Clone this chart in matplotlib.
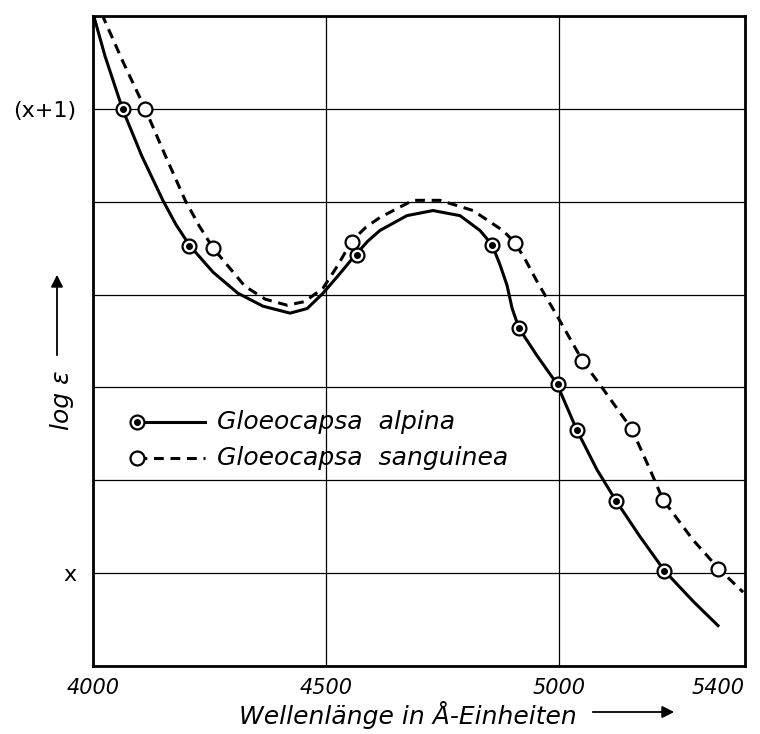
import numpy as np
import matplotlib
matplotlib.use("Agg")
import matplotlib.pyplot as plt
from matplotlib.lines import Line2D

plt.rcParams['font.family'] = ['DejaVu Sans']

# measured points (wavelength in Angstrom, log eps relative to x)
alpina_w = [4064, 4206, 4567, 4857, 4915, 4998, 5039, 5123, 5226]
alpina_y = [1.000, 0.705, 0.686, 0.707, 0.527, 0.408, 0.308, 0.156, 0.004]
sang_w = [4112, 4258, 4556, 4906, 5050, 5157, 5224, 5342]
sang_y = [1.000, 0.700, 0.714, 0.712, 0.458, 0.310, 0.158, 0.009]

# hand-drawn curves
alpina_curve_w = [4000, 4026, 4064, 4105, 4150, 4178, 4208, 4258, 4311, 4365, 4423, 4460,
                  4494, 4530, 4563, 4590, 4616, 4674, 4730, 4788, 4831, 4857, 4874, 4889,
                  4900, 4915, 4953, 4996, 5039, 5082, 5123, 5175, 5228, 5290, 5342]
alpina_curve_y = [1.206, 1.113, 0.998, 0.898, 0.803, 0.751, 0.705, 0.648, 0.603, 0.575, 0.560, 0.570,
                  0.603, 0.645, 0.685, 0.715, 0.738, 0.770, 0.781, 0.770, 0.738, 0.707, 0.664, 0.620,
                  0.570, 0.527, 0.469, 0.408, 0.308, 0.223, 0.156, 0.078, 0.004, -0.062, -0.113]
sang_curve_w = [4019, 4065, 4112, 4155, 4198, 4228, 4258, 4326, 4370, 4417, 4455, 4494,
                4525, 4556, 4586, 4616, 4687, 4745, 4816, 4880, 4906, 4930, 4953, 4996, 5052,
                5095, 5157, 5196, 5224, 5288, 5344, 5396]
sang_curve_y = [1.204, 1.100, 1.000, 0.900, 0.803, 0.748, 0.700, 0.618, 0.590, 0.577, 0.585, 0.614,
                0.662, 0.716, 0.745, 0.766, 0.803, 0.803, 0.781, 0.738, 0.712, 0.672, 0.629, 0.555, 0.456,
                0.397, 0.310, 0.223, 0.158, 0.072, 0.009, -0.041]

xticks = [4000, 4500, 5000, 5400]
xtick_labels = ['4000', '4500', '5000', '5400']
ygrid = [-0.2, 0.0, 0.2, 0.4, 0.6, 0.8, 1.0, 1.2]
ytick_labels = ['', 'x', '', '', '', '', '(x+1)', '']
names = ['Gloeocapsa  alpina', 'Gloeocapsa  sanguinea']

fig = plt.figure(figsize=(7.6, 7.34), dpi=100)
ax = fig.add_axes([93 / 760, 68 / 734, 652 / 760, 650 / 734])
ax.set_xlim(4000, 5400)
ax.set_ylim(-0.2, 1.2)

ax.set_xticks(xticks)
ax.set_xticklabels(xtick_labels, fontsize=15, style='italic')
ax.get_xticklabels()[-1].set_horizontalalignment('right')
ax.get_xticklabels()[-1].set_x(5410)
ax.set_yticks(ygrid)
ax.set_yticklabels(ytick_labels, fontsize=16)
ax.tick_params(length=0)
ax.tick_params(axis='x', pad=9)
ax.tick_params(axis='y', pad=12)
ax.grid(True, color='black', lw=0.9)
for s in ax.spines.values():
    s.set_linewidth(2)

ax.plot(alpina_curve_w, alpina_curve_y, color='black', lw=2.2, solid_joinstyle='round')
ax.plot(sang_curve_w, sang_curve_y, color='black', lw=2.2, ls=(0, (3.2, 2.2)))

ax.plot(alpina_w, alpina_y, 'o', ms=10, mfc='white', mec='black', mew=1.6, zorder=5)
ax.plot(alpina_w, alpina_y, 'o', ms=4, mfc='black', mec='black', zorder=6)
ax.plot(sang_w, sang_y, 'o', ms=10, mfc='white', mec='black', mew=1.6, zorder=5)

# legend drawn by hand inside the axes
ax.add_line(Line2D([0.067, 0.172], [0.375, 0.375], transform=ax.transAxes, color='black', lw=2.2))
ax.plot([0.067], [0.375], 'o', ms=10, mfc='white', mec='black', mew=1.6, transform=ax.transAxes, zorder=5)
ax.plot([0.067], [0.375], 'o', ms=4, color='black', transform=ax.transAxes, zorder=6)
ax.add_line(Line2D([0.067, 0.172], [0.32, 0.32], transform=ax.transAxes, color='black', lw=2.2, ls=(0, (3.2, 2.2))))
ax.plot([0.067], [0.32], 'o', ms=10, mfc='white', mec='black', mew=1.6, transform=ax.transAxes, zorder=5)
ax.text(0.19, 0.375, names[0], transform=ax.transAxes, fontsize=18, style='italic', va='center')
ax.text(0.19, 0.32, names[1], transform=ax.transAxes, fontsize=18, style='italic', va='center')

# axis labels with arrows
fig.text(408 / 760, 1 - 715 / 734, 'Wellenlänge in Å-Einheiten', fontsize=18, style='italic',
         ha='center', va='center')
ax.annotate('', xy=(677, 734 - 712), xytext=(590, 734 - 712), xycoords='figure pixels',
            arrowprops=dict(arrowstyle='-|>', lw=1.3, color='black', mutation_scale=18))
fig.text(62 / 760, 1 - 400 / 734, 'log ε', fontsize=18, style='italic', rotation=90,
         ha='center', va='center')
ax.annotate('', xy=(57, 734 - 272), xytext=(57, 734 - 358), xycoords='figure pixels',
            arrowprops=dict(arrowstyle='-|>', lw=1.3, color='black', mutation_scale=18))

fig.savefig('out.png', dpi=100)
